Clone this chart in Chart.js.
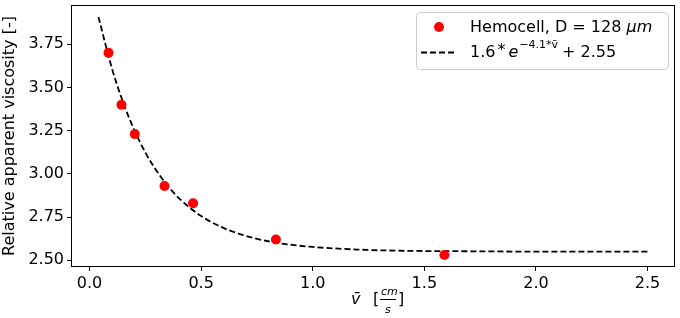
<!DOCTYPE html>
<html>
<head>
<meta charset="utf-8">
<script src="https://cdn.jsdelivr.net/npm/chart.js@4"></script>
<style>
  html, body { margin: 0; padding: 0; background: #fff; }
  #wrap { width: 680px; height: 318px; }
</style>
</head>
<body>
<div id="wrap"><canvas id="chart"></canvas></div>
<script>
// measured points (mean velocity vs relative apparent viscosity)
const velocity = [0.085, 0.143, 0.203, 0.336, 0.464, 0.835, 1.59];
const viscosity = [3.70, 3.40, 3.23, 2.93, 2.83, 2.62, 2.53];

// fitted dashed curve
const fitX = [0.04, 0.1, 0.15, 0.2, 0.25, 0.3, 0.35, 0.4, 0.5, 0.6, 0.7, 0.8, 0.9, 1.0, 1.2, 1.4, 1.7, 2.0, 2.5];
const fitY = [3.908, 3.612, 3.415, 3.255, 3.124, 3.018, 2.931, 2.860, 2.756, 2.687, 2.641, 2.610, 2.590, 2.577, 2.562, 2.555, 2.552, 2.550, 2.550];

const xTicks = [0, 0.5, 1.0, 1.5, 2.0, 2.5];
const yTicks = [2.50, 2.75, 3.00, 3.25, 3.50, 3.75];

const pointLabel = 'Hemocell, D = 128 ';
const fitLabel = ['1.6', '*', 'e', '\u22124.1*v\u0304', '+ 2.55'];

const FONT = '"DejaVu Sans", sans-serif';

const framePlugin = {
  id: 'frame',
  afterDraw(chart) {
    const { ctx, chartArea: a } = chart;
    ctx.save();
    ctx.strokeStyle = '#000';
    ctx.lineWidth = 1;
    ctx.strokeRect(Math.round(a.left) + 0.5, Math.round(a.top) + 0.5,
      Math.round(a.right - a.left) - 1, Math.round(a.bottom - a.top) - 1);

    // x axis title with a small fraction
    const cx = (a.left + a.right) / 2;
    ctx.fillStyle = '#000';
    ctx.textBaseline = 'alphabetic';
    ctx.font = 'italic 16px ' + FONT;
    ctx.fillText('v\u0304', cx - 22, 304);
    ctx.font = '16px ' + FONT;
    ctx.fillText('[', cx, 304);
    ctx.font = 'italic 11px ' + FONT;
    ctx.fillText('cm', cx + 8, 295);
    ctx.fillText('s', cx + 12, 313);
    ctx.fillRect(cx + 7, 299, 16, 1);
    ctx.font = '16px ' + FONT;
    ctx.fillText(']', cx + 25, 304);

    // legend
    const lx = 416, ly = 12, lw = 252, lh = 57;
    ctx.beginPath();
    ctx.roundRect(lx + 0.5, ly + 0.5, lw, lh, 4);
    ctx.fillStyle = 'rgba(255,255,255,0.8)';
    ctx.fill();
    ctx.strokeStyle = '#cccccc';
    ctx.lineWidth = 1;
    ctx.stroke();

    ctx.fillStyle = '#ff0000';
    ctx.beginPath();
    ctx.arc(439, 27, 5, 0, Math.PI * 2);
    ctx.fill();

    ctx.strokeStyle = '#000';
    ctx.lineWidth = 1.8;
    ctx.setLineDash([6, 3]);
    ctx.beginPath();
    ctx.moveTo(421, 52.5);
    ctx.lineTo(456, 52.5);
    ctx.stroke();
    ctx.setLineDash([]);

    ctx.fillStyle = '#000';
    ctx.textBaseline = 'middle';
    ctx.font = '16px ' + FONT;
    ctx.fillText(pointLabel, 470, 28);
    const w = ctx.measureText(pointLabel).width;
    ctx.font = 'italic 16px ' + FONT;
    ctx.fillText('\u03bcm', 470 + w, 28);

    let x = 470;
    ctx.font = '16px ' + FONT;
    ctx.fillText(fitLabel[0], x, 53);
    x += ctx.measureText(fitLabel[0]).width + 2;
    ctx.fillText(fitLabel[1], x, 51);
    x += ctx.measureText(fitLabel[1]).width + 3;
    ctx.font = 'italic 16px ' + FONT;
    ctx.fillText(fitLabel[2], x, 53);
    x += ctx.measureText(fitLabel[2]).width + 1;
    ctx.font = '11px ' + FONT;
    ctx.fillText(fitLabel[3], x, 45);
    x += ctx.measureText(fitLabel[3]).width + 4;
    ctx.font = '16px ' + FONT;
    ctx.fillText(fitLabel[4], x, 53);
    ctx.restore();
  }
};

new Chart(document.getElementById('chart'), {
  type: 'scatter',
  data: {
    datasets: [
      {
        label: 'fit',
        data: fitX.map((v, i) => ({ x: v, y: fitY[i] })),
        showLine: true,
        borderColor: '#000',
        borderWidth: 1.8,
        borderDash: [6, 3],
        pointRadius: 0,
        cubicInterpolationMode: 'monotone',
        fill: false,
        order: 2
      },
      {
        label: 'Hemocell',
        data: velocity.map((v, i) => ({ x: v, y: viscosity[i] })),
        backgroundColor: '#ff0000',
        borderColor: '#ff0000',
        pointRadius: 5,
        borderWidth: 0,
        order: 1
      }
    ]
  },
  options: {
    responsive: true,
    maintainAspectRatio: false,
    animation: false,
    layout: { padding: { left: 0, top: 4, right: 4, bottom: 0 } },
    plugins: {
      legend: { display: false },
      tooltip: { enabled: false }
    },
    scales: {
      x: {
        type: 'linear',
        min: -0.083,
        max: 2.623,
        afterBuildTicks: s => { s.ticks = xTicks.map(v => ({ value: v })); },
        afterFit: s => { s.height = 51; s.paddingLeft = 0; s.paddingRight = 0; },
        grid: { drawOnChartArea: false, drawTicks: true, tickLength: 4, color: '#000' },
        border: { display: false },
        ticks: {
          color: '#000',
          font: { family: FONT, size: 16 },
          padding: 3,
          maxRotation: 0,
          callback: v => v.toFixed(1)
        }
      },
      y: {
        min: 2.461,
        max: 3.977,
        afterBuildTicks: s => { s.ticks = yTicks.map(v => ({ value: v })); },
        afterFit: s => { s.width = 71; s.paddingTop = 0; s.paddingBottom = 0; },
        grid: { drawOnChartArea: false, drawTicks: true, tickLength: 4, color: '#000' },
        border: { display: false },
        title: {
          display: true,
          text: 'Relative apparent viscosity [-]',
          color: '#000',
          font: { family: FONT, size: 16 },
          padding: { top: 0, bottom: 2 }
        },
        ticks: {
          color: '#000',
          font: { family: FONT, size: 16 },
          padding: 3,
          callback: v => v.toFixed(2)
        }
      }
    }
  },
  plugins: [framePlugin]
});
</script>
</body>
</html>
